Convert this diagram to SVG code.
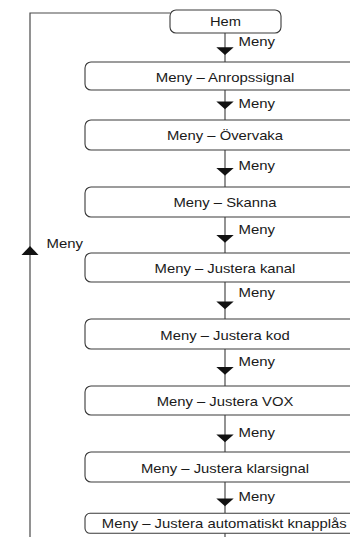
<svg xmlns="http://www.w3.org/2000/svg" xmlns:xlink="http://www.w3.org/1999/xlink" width="350" height="537" viewBox="0 0 350 537">
<style>
.box{fill:#fff;stroke:#3a3a3a;stroke-width:1.1}
.ln{stroke:#4a4a4a;stroke-width:1.2;fill:none}
.t{font-family:"Liberation Sans",Arial,Helvetica,sans-serif;font-size:13px;fill:#1a1a1a}
.c{text-anchor:middle}
.ah{fill:#111}
</style>
<defs>
<path id="dn" d="M-8.7,0 L8.7,0 L0,7.8 Z"/>
<path id="up" d="M-8.5,0 L8.5,0 L0,-9 Z"/>
</defs>
<rect width="350" height="537" fill="#fff"/>
<g id="connectors">
<polyline class="ln" points="30,537 30,13 170,13"/>
<use href="#up" class="ah" x="30" y="255"/>
<text class="t" x="46.5" y="248.3" textLength="36.5" lengthAdjust="spacingAndGlyphs">Meny</text>
<line class="ln" x1="225" y1="33" x2="225" y2="62"/>
<use href="#dn" class="ah" x="225" y="47.3"/>
<text class="t" x="238.5" y="46" textLength="36.5" lengthAdjust="spacingAndGlyphs">Meny</text>
<line class="ln" x1="225" y1="90" x2="225" y2="120"/>
<use href="#dn" class="ah" x="225" y="101.5"/>
<text class="t" x="238.5" y="107.5" textLength="36.5" lengthAdjust="spacingAndGlyphs">Meny</text>
<line class="ln" x1="225" y1="150" x2="225" y2="187"/>
<use href="#dn" class="ah" x="225" y="168"/>
<text class="t" x="238.5" y="170" textLength="36.5" lengthAdjust="spacingAndGlyphs">Meny</text>
<line class="ln" x1="225" y1="217" x2="225" y2="253"/>
<use href="#dn" class="ah" x="225" y="235"/>
<text class="t" x="238.5" y="234" textLength="36.5" lengthAdjust="spacingAndGlyphs">Meny</text>
<line class="ln" x1="225" y1="282" x2="225" y2="319"/>
<use href="#dn" class="ah" x="225" y="301.5"/>
<text class="t" x="238.5" y="297" textLength="36.5" lengthAdjust="spacingAndGlyphs">Meny</text>
<line class="ln" x1="225" y1="349" x2="225" y2="386"/>
<use href="#dn" class="ah" x="225" y="367"/>
<text class="t" x="238.5" y="366" textLength="36.5" lengthAdjust="spacingAndGlyphs">Meny</text>
<line class="ln" x1="225" y1="415" x2="225" y2="452"/>
<use href="#dn" class="ah" x="225" y="434.5"/>
<text class="t" x="238.5" y="437" textLength="36.5" lengthAdjust="spacingAndGlyphs">Meny</text>
<line class="ln" x1="225" y1="482" x2="225" y2="513"/>
<use href="#dn" class="ah" x="225" y="498.5"/>
<text class="t" x="238.5" y="501" textLength="36.5" lengthAdjust="spacingAndGlyphs">Meny</text>
<line class="ln" x1="225" y1="533" x2="225" y2="537"/>
</g>
<g id="hem">
<rect class="box" x="170" y="10" width="111" height="23" rx="6"/>
<text class="t c" x="225.5" y="25.5" textLength="31" lengthAdjust="spacingAndGlyphs">Hem</text>
</g>
<g id="anropssignal">
<rect class="box" x="85" y="62" width="280" height="28" rx="6"/>
<text class="t c" x="225" y="81.5" textLength="138.5" lengthAdjust="spacingAndGlyphs">Meny – Anropssignal</text>
</g>
<g id="overvaka">
<rect class="box" x="85" y="120" width="280" height="30" rx="6"/>
<text class="t c" x="225" y="139.5" textLength="116" lengthAdjust="spacingAndGlyphs">Meny – Övervaka</text>
</g>
<g id="skanna">
<rect class="box" x="85" y="187" width="280" height="30" rx="6"/>
<text class="t c" x="225" y="206.7" textLength="103" lengthAdjust="spacingAndGlyphs">Meny – Skanna</text>
</g>
<g id="justera-kanal">
<rect class="box" x="85" y="253" width="280" height="29" rx="6"/>
<text class="t c" x="225" y="272.7" textLength="140.8" lengthAdjust="spacingAndGlyphs">Meny – Justera kanal</text>
</g>
<g id="justera-kod">
<rect class="box" x="85" y="319" width="280" height="30" rx="6"/>
<text class="t c" x="225" y="339.5" textLength="129.3" lengthAdjust="spacingAndGlyphs">Meny – Justera kod</text>
</g>
<g id="justera-vox">
<rect class="box" x="85" y="386" width="280" height="29" rx="6"/>
<text class="t c" x="225" y="406.2" textLength="136.7" lengthAdjust="spacingAndGlyphs">Meny – Justera VOX</text>
</g>
<g id="justera-klarsignal">
<rect class="box" x="85" y="452" width="280" height="30" rx="6"/>
<text class="t c" x="225" y="472.5" textLength="168" lengthAdjust="spacingAndGlyphs">Meny – Justera klarsignal</text>
</g>
<g id="justera-knapplas">
<rect class="box" x="85" y="513.3" width="280" height="20" rx="5"/>
<text class="t c" x="224.3" y="528.3" textLength="245" lengthAdjust="spacingAndGlyphs">Meny – Justera automatiskt knapplås</text>
</g>
</svg>
